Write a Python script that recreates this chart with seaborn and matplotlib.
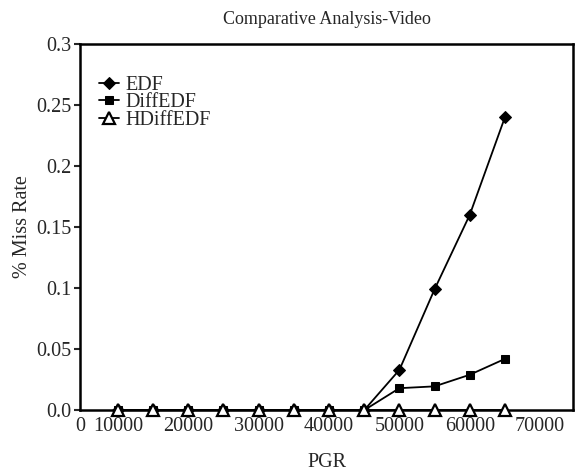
import pandas as pd
import matplotlib
matplotlib.use("Agg")
import matplotlib.pyplot as plt
import seaborn as sns

# Data
pgr = [10000, 15000, 20000, 25000, 30000, 35000, 40000, 45000, 50000, 55000, 60000, 65000]
edf = [0, 0, 0, 0, 0, 0, 0, 0, 0.033, 0.099, 0.160, 0.240]
diff_edf = [0, 0, 0, 0, 0, 0, 0, 0, 0.018, 0.0195, 0.029, 0.042]
hdiff_edf = [0, 0, 0, 0, 0, 0, 0, 0, 0, 0, 0, 0]

x_ticks = [10000, 20000, 30000, 40000, 50000, 60000, 70000]
y_ticks = [0.0, 0.05, 0.1, 0.15, 0.2, 0.25, 0.3]
y_labels = ["0.0", "0.05", "0.1", "0.15", "0.2", "0.25", "0.3"]

df = pd.DataFrame({"PGR": pgr, "EDF": edf, "DiffEDF": diff_edf, "HDiffEDF": hdiff_edf})

sns.set_style("white")
plt.rcParams["font.family"] = ["Liberation Serif", "DejaVu Serif"]

fig, ax = plt.subplots(figsize=(5.79, 4.72), dpi=100)
fig.subplots_adjust(left=0.138, right=0.99, top=0.907, bottom=0.131)

sns.lineplot(data=df, x="PGR", y="EDF", ax=ax, color="black", lw=1.3,
             marker="D", markersize=6, markerfacecolor="black", markeredgecolor="black", label="EDF")
sns.lineplot(data=df, x="PGR", y="DiffEDF", ax=ax, color="black", lw=1.3,
             marker="s", markersize=6, markerfacecolor="black", markeredgecolor="black", label="DiffEDF")
sns.lineplot(data=df, x="PGR", y="HDiffEDF", ax=ax, color="black", lw=1.3,
             marker="^", markersize=8.5, markerfacecolor="white", markeredgecolor="black",
             markeredgewidth=1.6, label="HDiffEDF")

for i, line in enumerate(ax.lines):
    line.set_clip_on(False)
    line.set_zorder(5 + i)

x0, x1 = 4600, 74700
ax.set_xlim(x0, x1)
ax.set_ylim(0, 0.3)
ax.set_xticks([x0] + x_ticks)
ax.set_xticklabels(["0"] + [str(v) for v in x_ticks])
ax.set_yticks(y_ticks)
ax.set_yticklabels(y_labels)
ax.tick_params(axis="y", direction="out", length=4, width=1.5, left=True, labelsize=14.5, pad=2)
ax.tick_params(axis="x", length=0, labelsize=14.5, pad=5)

for s in ax.spines.values():
    s.set_color("black")
    s.set_linewidth(1.8)

ax.set_xlabel("PGR", fontsize=14.5, labelpad=12)
ax.set_ylabel("% Miss Rate", fontsize=14.5, labelpad=3)
ax.set_title("Comparative Analysis-Video", fontsize=13, pad=14)

ax.legend(loc="upper left", bbox_to_anchor=(0.01, 0.95), frameon=False, fontsize=14.5,
          handlelength=1.0, handletextpad=0.3, labelspacing=-0.1, borderpad=0.2)

fig.savefig("out.png", dpi=100)
